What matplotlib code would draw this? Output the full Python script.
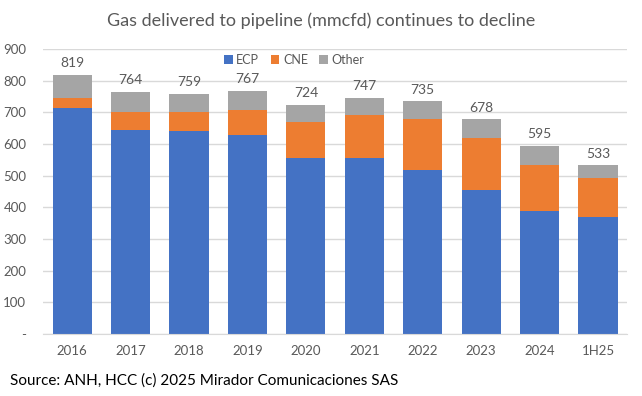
import numpy as np
import matplotlib.pyplot as plt

years = ["2016", "2017", "2018", "2019", "2020", "2021", "2022", "2023", "2024", "1H25"]
ecp = [713, 645, 642, 628, 555, 556, 517, 456, 388, 368]
cne = [32, 56, 59, 80, 114, 137, 163, 164, 147, 123]
other = [74, 63, 58, 59, 55, 54, 55, 58, 60, 42]
totals = [819, 764, 759, 767, 724, 747, 735, 678, 595, 533]

plt.rcParams['font.family'] = ['Lato', 'DejaVu Sans']
txt = "#595959"

fig = plt.figure(figsize=(6.42, 3.96), dpi=100)
ax = fig.add_axes([0.067, 0.157, 0.91, 0.719])

x = np.arange(len(years))
w = 0.67
ecp_a = np.array(ecp)
cne_a = np.array(cne)
ax.bar(x, ecp, w, color="#4472C4", label="ECP", zorder=2)
ax.bar(x, cne, w, bottom=ecp_a, color="#ED7D31", label="CNE", zorder=2)
ax.bar(x, other, w, bottom=ecp_a + cne_a, color="#A5A5A5", label="Other", zorder=2)

for i, t in enumerate(totals):
    ax.text(x[i], t + 18, str(t), ha="center", va="bottom", fontsize=10, color=txt)

ax.set_xlim(-0.5, 9.5)
ax.set_ylim(0, 900)
ax.set_yticks(range(0, 1000, 100))
ax.set_yticklabels(["-"] + [str(v) for v in range(100, 1000, 100)])
ax.set_xticks(x)
ax.set_xticklabels(years)
ax.tick_params(axis="both", length=0, labelsize=9.5, colors=txt)
ax.tick_params(axis="y", pad=12)
ax.tick_params(axis="x", pad=8)
ax.grid(axis="y", color="#D9D9D9", linewidth=1, zorder=0)
for s in ["top", "right", "left"]:
    ax.spines[s].set_visible(False)
ax.spines["bottom"].set_color("#D9D9D9")

leg = ax.legend(loc="upper center", bbox_to_anchor=(0.43, 1.01), ncol=3, frameon=False,
                fontsize=9, handlelength=0.7, handleheight=0.7, handletextpad=0.3,
                columnspacing=0.9, borderaxespad=0.2)
for t in leg.get_texts():
    t.set_color(txt)

fig.text(0.5, 0.948, "Gas delivered to pipeline (mmcfd) continues to decline",
         ha="center", va="center", fontsize=13, color=txt)
fig.text(0.015, 0.038, "Source: ANH, HCC (c) 2025 Mirador Comunicaciones SAS",
         ha="left", va="center", fontsize=11, color="black")

fig.savefig("out.png", dpi=100)
